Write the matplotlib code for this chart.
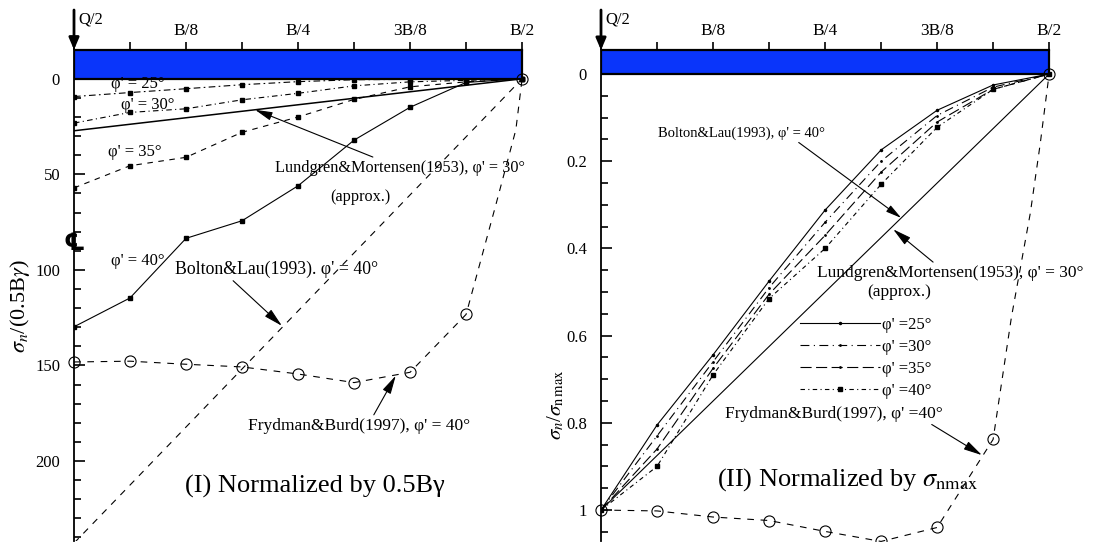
import matplotlib
matplotlib.use('Agg')
import matplotlib.pyplot as plt
from matplotlib.patches import Rectangle
from matplotlib.ticker import FixedLocator

plt.rcParams['font.family'] = ['Liberation Serif', 'DejaVu Serif']
plt.rcParams['mathtext.fontset'] = 'stix'

# positions along the footing (fraction of B), centre -> edge
x_pts = [0, 1/16, 2/16, 3/16, 4/16, 5/16, 6/16, 7/16, 8/16]
x_ends = [0, 0.5]

# (I) normalized by 0.5 B gamma
left_phi25 = [9.3, 7.2, 5.2, 3.1, 1.5, 0.5, 0.3, 0.1, 0]
left_phi30 = [23.2, 17.6, 15.7, 11.0, 7.6, 3.7, 1.6, 0.8, 0]
left_phi35 = [57.1, 45.5, 41.1, 28.0, 20.0, 10.8, 4.2, 1.6, 0]
left_phi40 = [129.8, 114.7, 83.5, 74.3, 56.0, 32.1, 14.9, 1.9, 0]
left_lundgren = [27.2, 0]
left_bolton = [243, 0]
left_fryd_x = [0, 1/16, 2/16, 3/16, 4/16, 5/16, 6/16, 7/16, 0.471, 0.493, 0.5]
left_frydman = [148.2, 147.8, 149.4, 150.8, 154.5, 159.0, 153.6, 123.3, 65.4, 26.7, 0]

# (II) normalized by sigma_n max
right_phi25 = [1, 0.805, 0.644, 0.475, 0.312, 0.174, 0.083, 0.025, 0]
right_phi30 = [1, 0.83, 0.66, 0.49, 0.34, 0.20, 0.095, 0.03, 0]
right_phi35 = [1, 0.86, 0.675, 0.505, 0.37, 0.225, 0.11, 0.035, 0]
right_phi40 = [1, 0.90, 0.69, 0.515, 0.40, 0.253, 0.122, 0.035, 0]
right_lundgren = [1, 0]
right_fryd_x = [0, 1/16, 2/16, 3/16, 4/16, 5/16, 6/16, 7/16, 0.458, 0.479, 0.490, 0.5]
right_frydman = [1.0, 1.002, 1.016, 1.024, 1.049, 1.072, 1.040, 0.838, 0.557, 0.319, 0.161, 0]

top_ticks = [0, 1/8, 1/4, 3/8, 1/2]
top_labels = ['', 'B/8', 'B/4', '3B/8', 'B/2']
minor_top = [i / 16 for i in range(9)]

BLUE = '#0a35fa'
LW = 0.8
arrow = dict(arrowstyle='-|>,head_length=0.9,head_width=0.22', lw=0.8, color='k',
             shrinkA=0, shrinkB=0)


def frame(ax, ylim, bar_top, yticks, ylabels, yminor):
    ax.set_xlim(0, 0.53)
    ax.set_ylim(*ylim)
    for s in ['right', 'bottom']:
        ax.spines[s].set_visible(False)
    ax.spines['left'].set_linewidth(1.3)
    ax.spines['top'].set_position(('data', bar_top))
    ax.spines['top'].set_bounds(0, 0.5)
    ax.xaxis.set_ticks_position('top')
    ax.set_xticks(top_ticks)
    ax.set_xticklabels(top_labels, fontsize=12.5)
    ax.xaxis.set_minor_locator(FixedLocator(minor_top))
    ax.tick_params(axis='x', which='both', direction='out', length=6, width=1.2, pad=2)
    ax.set_yticks(yticks)
    ax.set_yticklabels(ylabels, fontsize=12)
    ax.yaxis.set_minor_locator(FixedLocator(yminor))
    ax.tick_params(axis='y', which='major', direction='in', length=8, width=1.2, pad=10)
    ax.tick_params(axis='y', which='minor', direction='in', length=5, width=1.2)
    ax.add_patch(Rectangle((0, bar_top), 0.5, -bar_top, fc=BLUE, ec='k', lw=1.6, zorder=3))
    ax.annotate('', xy=(0, bar_top), xytext=(0, ylim[1]),
                arrowprops=dict(arrowstyle='-|>,head_length=0.7,head_width=0.3', lw=2,
                                color='k', shrinkA=0, shrinkB=0), zorder=4)
    ax.annotate('Q/2', xy=(0, ylim[1]), xytext=(3, -7), textcoords='offset points',
                fontsize=12, ha='left', va='center')


def centreline(ax, x, y):
    ax.annotate('\u2104', xy=(x, y), xytext=(0, 0), textcoords='offset points',
                fontsize=17, fontweight='bold', ha='center', va='center',
                family=['DejaVu Sans', 'DejaVu Serif'])


fig = plt.figure(figsize=(11, 5.42), dpi=100)
axL = fig.add_axes([74 / 1100, 1 / 542, 475 / 1100, 531 / 542])
axR = fig.add_axes([601 / 1100, 1 / 542, 475 / 1100, 531 / 542])

# ---------------- left panel ----------------
frame(axL, (241.9, -36), -15.2, [0, 50, 100, 150, 200], ['0', '50', '100', '150', '200'],
      list(range(0, 241, 10)))

axL.plot(x_pts, left_phi25, color='k', lw=LW, ls=(0, (6, 3, 1.5, 3)), marker='s', ms=3.5)
axL.plot(x_pts, left_phi30, color='k', lw=LW, ls=(0, (5, 3, 1, 3)), marker='s', ms=3.5)
axL.plot(x_pts, left_phi35, color='k', lw=LW, ls=(0, (5, 5)), marker='s', ms=3.5)
axL.plot(x_pts, left_phi40, color='k', lw=LW, ls='-', marker='s', ms=3)
axL.plot(x_ends, left_lundgren, color='k', lw=1.1)
axL.plot(x_ends, left_bolton, color='k', lw=LW, ls=(0, (6, 6)))
axL.plot(left_fryd_x, left_frydman, color='k', lw=LW, ls=(0, (6, 6)), marker='o', ms=8,
         mfc='none', mew=0.8, markevery=[0, 1, 2, 3, 4, 5, 6, 7, 10], clip_on=False, zorder=5)

axL.text(0.0714, 2.6, "φ' = 25°", fontsize=12, ha='center', va='center')
axL.text(0.0826, 13.6, "φ' = 30°", fontsize=12, ha='center', va='center')
axL.text(0.068, 38.2, "φ' = 35°", fontsize=12, ha='center', va='center')
axL.text(0.0714, 95.3, "φ' = 40°", fontsize=12, ha='center', va='center')
axL.annotate("Lundgren&Mortensen(1953), φ' = 30°", xy=(0.202, 16.2), xytext=(0.224, 46.6),
             fontsize=11.7, ha='left', va='center', arrowprops=arrow)
axL.text(0.319, 61.8, '(approx.)', fontsize=11.7, ha='center', va='center')
axL.annotate("Bolton&Lau(1993). φ' = 40°", xy=(0.232, 129.3), xytext=(0.113, 99.7),
             fontsize=12.8, ha='left', va='center',
             arrowprops=dict(arrow, relpos=(0.27, 0.0)))
axL.annotate("Frydman&Burd(1997), φ' = 40°", xy=(0.359, 155.4), xytext=(0.194, 181.5),
             fontsize=12.5, ha='left', va='center',
             arrowprops=dict(arrow, relpos=(0.56, 1.0)))
axL.text(0.269, 213.1, '(I) Normalized by 0.5Bγ', fontsize=19, ha='center', va='center')
centreline(axL, 0.0, 86)
fig.text(20 / 1100, 1 - 306 / 542, r'$\sigma_n$/(0.5B$\gamma$)', rotation=90,
         fontsize=16, ha='center', va='center')

# ---------------- right panel ----------------
frame(axR, (1.071, -0.147), -0.055, [0, 0.2, 0.4, 0.6, 0.8, 1.0],
      ['0', '0.2', '0.4', '0.6', '0.8', '1'], [i * 0.05 for i in range(22)])

h25, = axR.plot(x_pts, right_phi25, color='k', lw=LW, ls='-', marker='.', ms=3)
h30, = axR.plot(x_pts, right_phi30, color='k', lw=LW, ls=(0, (8, 4, 1, 4)), marker='.', ms=2)
h35, = axR.plot(x_pts, right_phi35, color='k', lw=LW, ls=(0, (10, 4)), marker='.', ms=2)
h40, = axR.plot(x_pts, right_phi40, color='k', lw=LW, ls=(0, (4, 3, 1, 3)), marker='s', ms=3)
axR.plot(x_ends, right_lundgren, color='k', lw=LW)
axR.plot(right_fryd_x, right_frydman, color='k', lw=LW, ls=(0, (6, 6)), marker='o', ms=8,
         mfc='none', mew=0.8, markevery=[0, 1, 2, 3, 4, 5, 6, 7, 11], clip_on=False, zorder=5)

axR.legend([h25, h30, h35, h40], ["φ' =25°", "φ' =30°", "φ' =35°", "φ' =40°"],
           loc='upper left', bbox_to_anchor=(800 / 1100, 1 - 317 / 542),
           bbox_transform=fig.transFigure, frameon=False, fontsize=12, numpoints=1,
           handlelength=4.8, handletextpad=0.1, labelspacing=0.36, borderpad=0,
           borderaxespad=0)

axR.annotate("Bolton&Lau(1993), φ' = 40°", xy=(0.335, 0.330), xytext=(0.0636, 0.135),
             fontsize=10.5, ha='left', va='center',
             arrowprops=dict(arrow, relpos=(0.82, 0.0)))
axR.annotate("Lundgren&Mortensen(1953), φ' = 30°", xy=(0.326, 0.356), xytext=(0.2405, 0.456),
             fontsize=12.5, ha='left', va='center',
             arrowprops=dict(arrow, relpos=(0.45, 1.0)))
axR.text(0.3326, 0.5, '(approx.)', fontsize=12.5, ha='center', va='center')
axR.annotate("Frydman&Burd(1997), φ' =40°", xy=(0.425, 0.874), xytext=(0.138, 0.779),
             fontsize=12.5, ha='left', va='center',
             arrowprops=dict(arrow, relpos=(0.93, 0.0)))
axR.text(0.2746, 0.929, r'(II) Normalized by $\sigma_{\mathrm{nmax}}$', fontsize=19,
         ha='center', va='center')
centreline(axR, -0.0045, 0.346)
fig.text(556 / 1100, 1 - 405 / 542, r'$\sigma_n$/$\sigma_{\mathrm{n\,max}}$', rotation=90,
         fontsize=15, ha='center', va='center')

fig.savefig('out.png', dpi=100)
